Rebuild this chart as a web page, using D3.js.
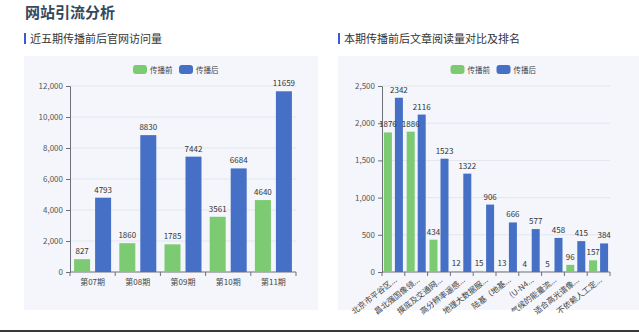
<!DOCTYPE html>
<html>
<head>
<meta charset="utf-8">
<script src="https://cdn.jsdelivr.net/npm/d3@7"></script>
<style>
  body { margin: 0; background: #fff; }
  svg { display: block; font-family: "Noto Sans CJK SC", "Noto Sans", sans-serif; }
</style>
</head>
<body>
<svg id="chart" width="639" height="332"></svg>
<script>
// data
const periods = ["第07期", "第08期", "第09期", "第10期", "第11期"];
const visitsBefore = [827, 1860, 1785, 3561, 4640];
const visitsAfter = [4793, 8830, 7442, 6684, 11659];
const visitTicks = [0, 2000, 4000, 6000, 8000, 10000, 12000];

const articles = ["北京市平谷区...", "昌北强国像领...", "摸底及交通网...", "高分辨率遥感...", "地理大数据服...",
  "陆基（地基...", "(U-N4...", "气候的能量流...", "适合高光谱像...", "不依赖人工定..."];
const readsBefore = [1876, 1886, 434, 12, 15, 13, 4, 5, 96, 157];
const readsAfter = [2342, 2116, 1523, 1322, 906, 666, 577, 458, 415, 384];
const readTicks = [0, 500, 1000, 1500, 2000, 2500];

const seriesNames = ["传播前", "传播后"];
const GREEN = "#7ccb72", BLUE = "#4570c6";

const svg = d3.select("#chart");

// page heading
svg.append("text").attr("x", 25).attr("y", 18)
  .attr("font-size", 15).attr("font-weight", "bold").attr("fill", "#34495e")
  .text("网站引流分析");

// bottom border
svg.append("rect").attr("x", 0).attr("y", 330).attr("width", 639).attr("height", 2).attr("fill", "#3a3a3a");

function panel(opts) {
  const { px, pw, title, cats, before, after, ticks, ymax, axisLeft, axisRight, barW, gap, rotate } = opts;

  // subtitle with accent bar
  svg.append("rect").attr("x", px).attr("y", 33).attr("width", 2).attr("height", 11).attr("fill", "#3b5bd6");
  svg.append("text").attr("x", px + 6).attr("y", 43)
    .attr("font-size", 11).attr("fill", "#333").text(title);

  // panel background
  svg.append("rect").attr("x", px).attr("y", 56).attr("width", pw).attr("height", 254).attr("fill", "#f4f6fb");

  const g = svg.append("g");
  const top = 86, bottom = 272;

  const x = d3.scaleBand().domain(cats).range([axisLeft, axisRight]);
  const y = d3.scaleLinear().domain([0, ymax]).range([bottom, top]);

  // gridlines
  g.append("g").selectAll("line").data(ticks.slice(1)).join("line")
    .attr("x1", axisLeft).attr("x2", axisRight)
    .attr("y1", d => y(d)).attr("y2", d => y(d))
    .attr("stroke", "#e3e6ee").attr("stroke-width", 1);

  // y axis
  const yAxis = g.append("g").attr("transform", `translate(${axisLeft},0)`)
    .call(d3.axisLeft(y).tickValues(ticks).tickFormat(d3.format(",")).tickSize(4).tickPadding(3));
  yAxis.select(".domain").attr("stroke", "#6e7079");
  yAxis.selectAll(".tick line").attr("stroke", "#6e7079");
  yAxis.selectAll("text").attr("font-size", 8).attr("fill", "#555").attr("font-family", "Noto Sans CJK SC, sans-serif");

  // x axis with ticks at band boundaries
  const xa = g.append("g").attr("transform", `translate(0,${bottom})`);
  xa.append("line").attr("x1", axisLeft).attr("x2", axisRight).attr("stroke", "#6e7079");
  xa.selectAll(".bt").data(cats.concat([null])).join("line").attr("class", "bt")
    .attr("x1", (d, i) => axisLeft + i * x.bandwidth()).attr("x2", (d, i) => axisLeft + i * x.bandwidth())
    .attr("y1", 0).attr("y2", 4).attr("stroke", "#6e7079");
  const lbl = xa.selectAll(".xl").data(cats).join("text").attr("class", "xl")
    .attr("font-size", 8).attr("fill", "#444").text(d => d);
  if (rotate) {
    lbl.attr("text-anchor", "end")
      .attr("transform", d => `translate(${x(d) + x.bandwidth() / 2 + 4},${9}) rotate(-38)`);
  } else {
    lbl.attr("text-anchor", "middle").attr("x", d => x(d) + x.bandwidth() / 2).attr("y", 13);
  }

  // bars
  const rows = cats.map((c, i) => ({ cat: c, vals: [before[i], after[i]] }));
  const grp = g.append("g").selectAll("g").data(rows).join("g")
    .attr("transform", d => `translate(${x(d.cat) + x.bandwidth() / 2},0)`);
  const colors = [GREEN, BLUE];
  const offs = [-(gap / 2) - barW, gap / 2];
  grp.selectAll("rect").data(d => d.vals).join("rect")
    .attr("x", (d, i) => offs[i]).attr("width", barW)
    .attr("y", d => y(d)).attr("height", d => bottom - y(d))
    .attr("fill", (d, i) => colors[i]);
  grp.selectAll("text").data(d => d.vals).join("text")
    .attr("x", (d, i) => offs[i] + barW / 2).attr("y", d => y(d) - 5)
    .attr("text-anchor", "middle").attr("font-size", 8).attr("fill", "#333")
    .text(d => d);

  // legend
  const lx = px + pw / 2 - 38;
  const leg = g.append("g").selectAll("g").data(seriesNames).join("g")
    .attr("transform", (d, i) => `translate(${lx + i * 46},65)`);
  leg.append("rect").attr("width", 14).attr("height", 9).attr("rx", 3).attr("fill", (d, i) => colors[i]);
  leg.append("text").attr("x", 17).attr("y", 8).attr("font-size", 7.5).attr("fill", "#444").text(d => d);
}

panel({ px: 24, pw: 294, title: "近五期传播前后官网访问量", cats: periods, before: visitsBefore, after: visitsAfter,
  ticks: visitTicks, ymax: 12000, axisLeft: 70, axisRight: 296, barW: 16, gap: 5, rotate: false });

panel({ px: 338, pw: 301, title: "本期传播前后文章阅读量对比及排名", cats: articles, before: readsBefore, after: readsAfter,
  ticks: readTicks, ymax: 2500, axisLeft: 382, axisRight: 610, barW: 8, gap: 3, rotate: true });
</script>
</body>
</html>
